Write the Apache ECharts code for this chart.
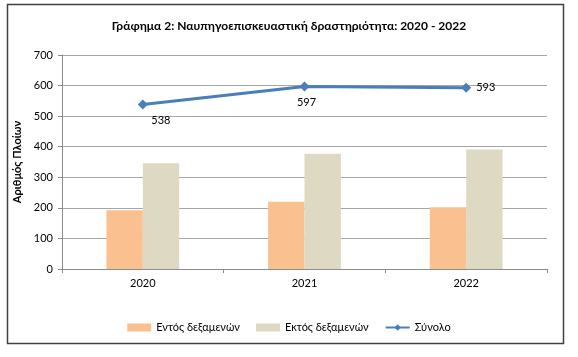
<!DOCTYPE html>
<html><head><meta charset="utf-8">
<script src="https://cdn.jsdelivr.net/npm/echarts@6/dist/echarts.min.js"></script>
<style>html,body{margin:0;padding:0;background:#fff}#c{width:578px;height:357px}</style>
</head><body><div id="c"></div>
<script>
const categories = ['2020', '2021', '2022'];
const insideDocks = [192, 220, 202];
const outsideDocks = [346, 377, 391];
const totals = [538, 597, 593];
const seriesNames = ['Εντός δεξαμενών', 'Εκτός δεξαμενών', 'Σύνολο'];
const titleText = 'Γράφημα 2: Ναυπηγοεπισκευαστική δραστηριότητα: 2020 - 2022';
const yAxisName = 'Αριθμός Πλοίων';

const FONT = 'Lato, "Open Sans", sans-serif';
const chart = echarts.init(document.getElementById('c'), null, {renderer: 'canvas'});
const labelPos = [
  {position: 'bottom', offset: [18, 0]},
  {position: 'bottom', offset: [2, 0]},
  {position: 'right', offset: [0, 0]}
];
chart.setOption({
  animation: false,
  textStyle: {fontFamily: FONT},
  title: {text: titleText, left: 'center', top: 15,
    textStyle: {fontSize: 12, fontWeight: 'bold', color: '#000', fontFamily: FONT}},
  graphic: [{type: 'rect', shape: {x: 7.5, y: 4.5, width: 556, height: 339},
    style: {fill: 'none', stroke: '#404040', lineWidth: 1.5}, z: -1}],
  grid: {left: 62, right: 31, top: 55, bottom: 88, containLabel: false},
  legend: {bottom: 19, left: 'center', itemGap: 16, itemWidth: 24, itemHeight: 8,
    textStyle: {fontSize: 11, color: '#000', fontFamily: FONT},
    data: [
      {name: seriesNames[0], icon: 'rect'},
      {name: seriesNames[1], icon: 'rect'},
      {name: seriesNames[2]}
    ]},
  xAxis: {type: 'category', data: categories, boundaryGap: true,
    axisLine: {lineStyle: {color: '#8c8c8c'}},
    axisTick: {show: true, length: 4, lineStyle: {color: '#8c8c8c'}},
    axisLabel: {fontSize: 11, color: '#000', margin: 9}},
  yAxis: {type: 'value', min: 0, max: 700, interval: 100,
    name: yAxisName, nameLocation: 'middle', nameGap: 30, nameRotate: 90,
    nameTextStyle: {fontSize: 11, fontWeight: 'bold', color: '#000'},
    axisLine: {show: true, lineStyle: {color: '#8c8c8c'}},
    axisTick: {show: true, length: 4, lineStyle: {color: '#8c8c8c'}},
    axisLabel: {fontSize: 11, color: '#000', margin: 9},
    splitLine: {lineStyle: {color: '#a6a6a6', width: 1}}},
  series: [
    {name: seriesNames[0], type: 'bar', data: insideDocks, barGap: '0%', barCategoryGap: '55%',
      itemStyle: {color: '#fac090'}},
    {name: seriesNames[1], type: 'bar', data: outsideDocks, barGap: '0%', barCategoryGap: '55%',
      itemStyle: {color: '#ddd9c3'}},
    {name: seriesNames[2], type: 'line', symbol: 'diamond', symbolSize: 10,
      lineStyle: {color: '#4a7ebb', width: 3}, itemStyle: {color: '#4a7ebb'},
      data: totals.map((v, i) => ({value: v, label: {show: true, position: labelPos[i].position,
        offset: labelPos[i].offset, fontSize: 11, color: '#000'}}))}
  ]
});
</script></body></html>
